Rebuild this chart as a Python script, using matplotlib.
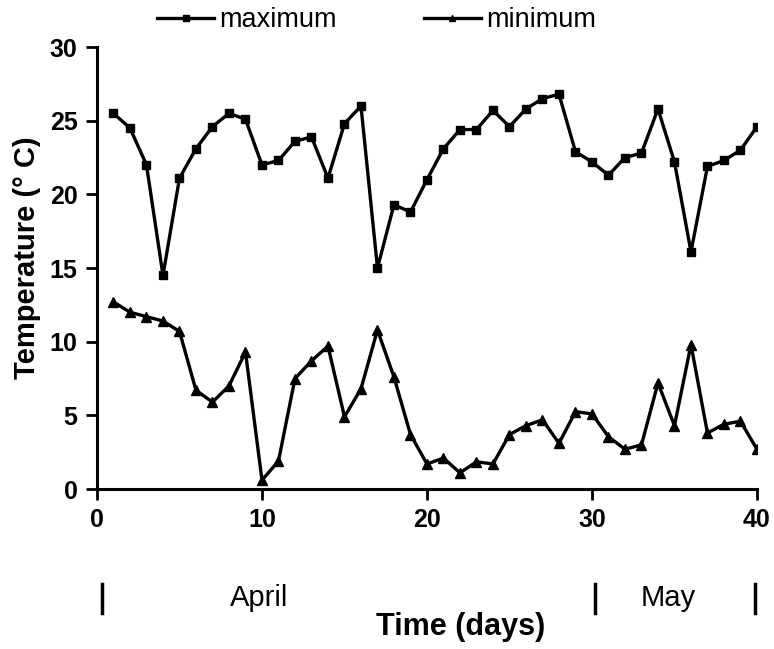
import numpy as np
import matplotlib
matplotlib.use("Agg")
from matplotlib import pyplot as plt
from matplotlib.lines import Line2D
import matplotlib.transforms as mtransforms

plt.rcParams['font.family'] = ['Liberation Sans', 'DejaVu Sans']

# daily temperatures (deg C), days 1..40
days = np.arange(1, 41)
t_max = [25.5, 24.5, 22.0, 14.5, 21.1, 23.1, 24.6, 25.5, 25.1, 22.0,
         22.3, 23.6, 23.9, 21.1, 24.8, 26.0, 15.0, 19.3, 18.8, 21.0,
         23.1, 24.4, 24.4, 25.7, 24.6, 25.8, 26.5, 26.8, 22.9, 22.2,
         21.3, 22.5, 22.8, 25.8, 22.2, 16.1, 21.9, 22.3, 23.0, 24.6]
t_min = [12.7, 12.0, 11.7, 11.4, 10.7, 6.7, 5.9, 7.0, 9.3, 0.6,
         1.9, 7.5, 8.7, 9.7, 4.9, 6.8, 10.8, 7.6, 3.7, 1.7,
         2.1, 1.1, 1.85, 1.7, 3.7, 4.3, 4.7, 3.1, 5.25, 5.1,
         3.55, 2.7, 3.0, 7.2, 4.3, 9.8, 3.8, 4.4, 4.6, 2.7]

x_ticks = [0, 10, 20, 30, 40]
y_ticks = [0, 5, 10, 15, 20, 25, 30]
month_names = ['April', 'May']
month_centers = [9.8, 34.6]
month_bounds = [0.33, 30.2, 39.9]

fig = plt.figure(figsize=(7.74, 6.49), dpi=100)
ax = fig.add_axes([0.1253, 0.2465, 0.8527, 0.681])

ax.plot(days, t_max, color='black', lw=2.4, marker='s', ms=6)
ax.plot(days, t_min, color='black', lw=2.4, marker='^', ms=6.5)

ax.set_xlim(0, 40)
ax.set_ylim(0, 30)
ax.set_xticks(x_ticks)
ax.set_yticks(y_ticks)
for s in ['top', 'right']:
    ax.spines[s].set_visible(False)
for s in ['left', 'bottom']:
    ax.spines[s].set_linewidth(2.2)
ax.tick_params(length=8, width=2, labelsize=18, pad=6)
for lab in ax.get_xticklabels() + ax.get_yticklabels():
    lab.set_fontweight('bold')

# month band under the axis
trans = mtransforms.blended_transform_factory(ax.transData, ax.transAxes)
for xb in month_bounds:
    ax.plot([xb, xb], [-0.215, -0.280], color='black', lw=2.5,
            transform=trans, clip_on=False)
for name, xc in zip(month_names, month_centers):
    ax.text(xc, -0.247, name, transform=trans, ha='center', va='center',
            fontsize=21)

fig.text(27 / 774, 1 - 258 / 649, 'Temperature (° C)', rotation=90,
         ha='center', va='center', fontsize=21, fontweight='bold')
fig.text(461 / 774, 1 - 627 / 649, 'Time (days)', ha='center', va='center',
         fontsize=22, fontweight='bold')

handles = [Line2D([], [], color='black', lw=2.4, marker='s', ms=4),
           Line2D([], [], color='black', lw=2.4, marker='^', ms=4)]
fig.legend(handles, ['maximum', 'minimum'], loc='center',
           bbox_to_anchor=(376.5 / 774, 0.969), ncol=2, frameon=False,
           fontsize=19.5, handlelength=2.1, handletextpad=0.2,
           columnspacing=3.2)

fig.savefig('out.png', dpi=100)
